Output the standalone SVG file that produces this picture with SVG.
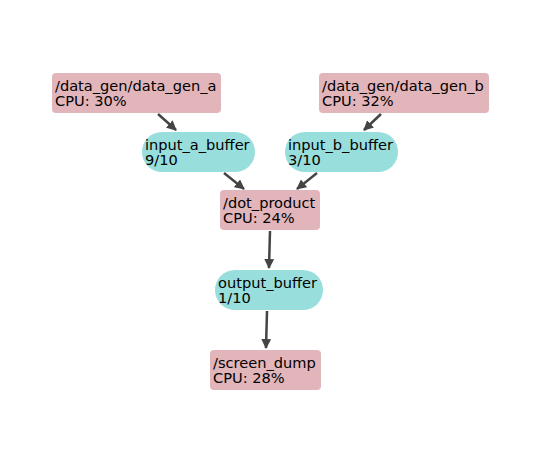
<svg xmlns="http://www.w3.org/2000/svg" width="543" height="470" viewBox="0 0 543 470">
<style>
.n{fill:#e2b5ba}
.t{fill:#98dedc}
text{font-family:"DejaVu Sans",sans-serif;font-size:14.6px;fill:#000}
.e{stroke:#444;stroke-width:2.5;fill:none;marker-end:url(#ah)}
</style>
<defs>
<marker id="ah" viewBox="0 0 10 10" refX="9" refY="5" markerWidth="4" markerHeight="4" orient="auto" markerUnits="strokeWidth">
<path d="M0,0 L10,5 L0,10 z" fill="#444"/>
</marker>
</defs>
<rect width="543" height="470" fill="#fff"/>
<g id="connectors">
<line class="e" x1="158" y1="114" x2="176" y2="130"/>
<line class="e" x1="381" y1="114" x2="364" y2="130"/>
<line class="e" x1="224" y1="173" x2="244" y2="189"/>
<line class="e" x1="317" y1="173" x2="297" y2="189"/>
<line class="e" x1="270" y1="231" x2="269" y2="268"/>
<line class="e" x1="267" y1="311" x2="266" y2="348"/>
</g>
<g id="data_gen_a"><rect class="n" x="52" y="73" width="169" height="40" rx="4"/><text x="55" y="91">/data_gen/data_gen_a</text><text x="55" y="106">CPU: 30%</text></g>
<g id="data_gen_b"><rect class="n" x="319" y="73" width="170" height="40" rx="4"/><text x="322" y="91">/data_gen/data_gen_b</text><text x="322" y="106">CPU: 32%</text></g>
<g id="input_a_buffer"><rect class="t" x="142" y="132" width="113" height="40" rx="20"/><text x="145" y="150">input_a_buffer</text><text x="145" y="165">9/10</text></g>
<g id="input_b_buffer"><rect class="t" x="285" y="132" width="113" height="40" rx="20"/><text x="288" y="150">input_b_buffer</text><text x="288" y="165">3/10</text></g>
<g id="dot_product"><rect class="n" x="220" y="190" width="100" height="40" rx="4"/><text x="223" y="208">/dot_product</text><text x="223" y="223">CPU: 24%</text></g>
<g id="output_buffer"><rect class="t" x="215" y="270" width="108" height="40" rx="20"/><text x="218" y="288">output_buffer</text><text x="218" y="303">1/10</text></g>
<g id="screen_dump"><rect class="n" x="210" y="350" width="111" height="40" rx="4"/><text x="213" y="368">/screen_dump</text><text x="213" y="383">CPU: 28%</text></g>
</svg>
